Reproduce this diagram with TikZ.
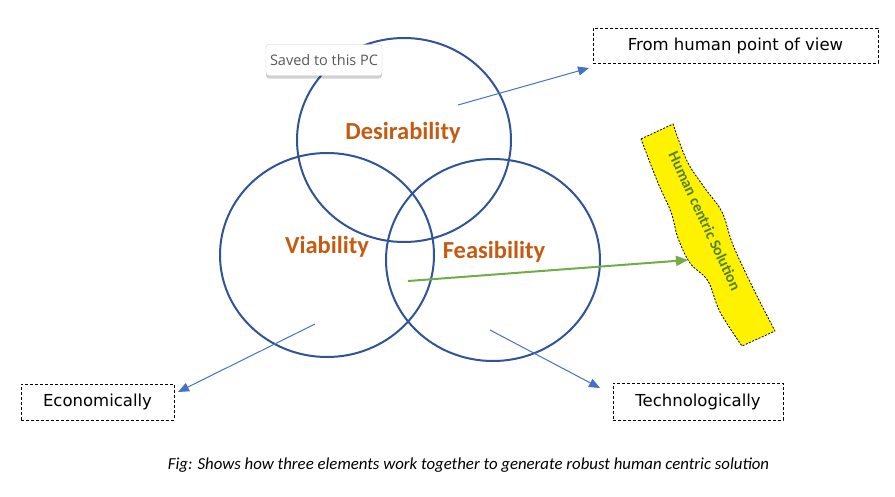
\documentclass[tikz,border=0pt]{standalone}
\usepackage{fontspec}
\setmainfont{Carlito}
\newfontfamily\handfont{DejaVu Sans}
\newfontfamily\tipfont{Open Sans}
\usepackage{xcolor}
\usetikzlibrary{arrows.meta, shadows}
\definecolor{ringblue}{HTML}{2F5597}
\definecolor{labelorange}{HTML}{C55A11}
\definecolor{arrowblue}{HTML}{4472C4}
\definecolor{arrowgreen}{HTML}{70AD47}
\definecolor{bannertext}{HTML}{548235}
\definecolor{tipgray}{HTML}{595959}

\begin{document}
\begin{tikzpicture}[x=1pt, y=-1pt,
    ring/.style={draw=ringblue, line width=2pt},
    ringlabel/.style={text=labelorange, font=\fontsize{24.5}{28}\selectfont\bfseries},
    notebox/.style={draw=black, line width=0.8pt, dash pattern=on 3pt off 2pt, inner sep=0pt, font=\handfont\fontsize{16.5}{19}\selectfont},
    pointer/.style={draw=arrowblue, line width=1pt, -{Triangle[length=11pt, width=9pt]}},
    greenpointer/.style={draw=arrowgreen, line width=2pt, -{Triangle[length=12pt, width=10pt]}}]
    \useasboundingbox (0,0) rectangle (895,496);

    % Coordinates
    \coordinate (desire) at (404,140);
    \coordinate (viable) at (327,255);
    \coordinate (feasible) at (493,260);
    \coordinate (dtail) at (458,105);
    \coordinate (dhead) at (589,68);
    \coordinate (vtail) at (315,324);
    \coordinate (vhead) at (178,392);
    \coordinate (ftail) at (490,330);
    \coordinate (fhead) at (600,388);
    \coordinate (gtail) at (408,281);
    \coordinate (ghead) at (688,260);

    % Circles
    \draw[ring] (desire) ellipse [x radius=107, y radius=102];
    \draw[ring] (viable) ellipse [x radius=107, y radius=102];
    \draw[ring] (feasible) ellipse [x radius=107, y radius=101];
    % Text
    \node[ringlabel] (dlabel) at (403,133) {Desirability};
    \node[ringlabel] (vlabel) at (327,247) {Viability};
    \node[ringlabel] (flabel) at (494,252) {Feasibility};

    % Boxes
    \node[notebox, minimum width=285, minimum height=35] (human) at (735.5,45.5) {From human point of view};
    \node[notebox, minimum width=153, minimum height=36] (econ) at (97.5,402) {Economically};
    \node[notebox, minimum width=170, minimum height=37] (tech) at (698,401.5) {Technologically};

    % Banner
    \draw[fill=yellow, line width=0.8pt, dash pattern=on 2pt off 1.5pt]
        (641,139) -- (673,124)
        -- plot[smooth, tension=0.6] coordinates {(673,124) (687,161) (704,187) (722,212) (733,245) (754,290) (775,331)}
        -- (742,346)
        -- plot[smooth, tension=0.6] coordinates {(742,346) (720,312) (708,281) (690,263) (678,238) (671,212) (658,183) (641,139)}
        -- cycle;
    % Text
    \node[text=bannertext, rotate=-65, font=\fontsize{15.5}{18}\selectfont\bfseries] (solution) at (705,221) {Human centric Solution};

    % Lines
    \draw[pointer] (dtail) -- (dhead);
    \draw[pointer] (vtail) -- (vhead);
    \draw[pointer] (ftail) -- (fhead);
    \draw[greenpointer] (gtail) -- (ghead);

    % Tooltip
    \node[draw=black!20, fill=white, rounded corners=3pt, minimum width=116, minimum height=31,
        drop shadow={shadow xshift=0pt, shadow yshift=-3pt, opacity=0.18, fill=black},
        text=tipgray, font=\tipfont\fontsize{14.5}{17}\selectfont] (saved) at (324,60) {Saved to this PC};

    % Caption
    \node[font=\fontsize{16.8}{20}\selectfont\itshape] (caption) at (468.5,465) {Fig: Shows how three elements work together to generate robust human centric solution};
\end{tikzpicture}
\end{document}
